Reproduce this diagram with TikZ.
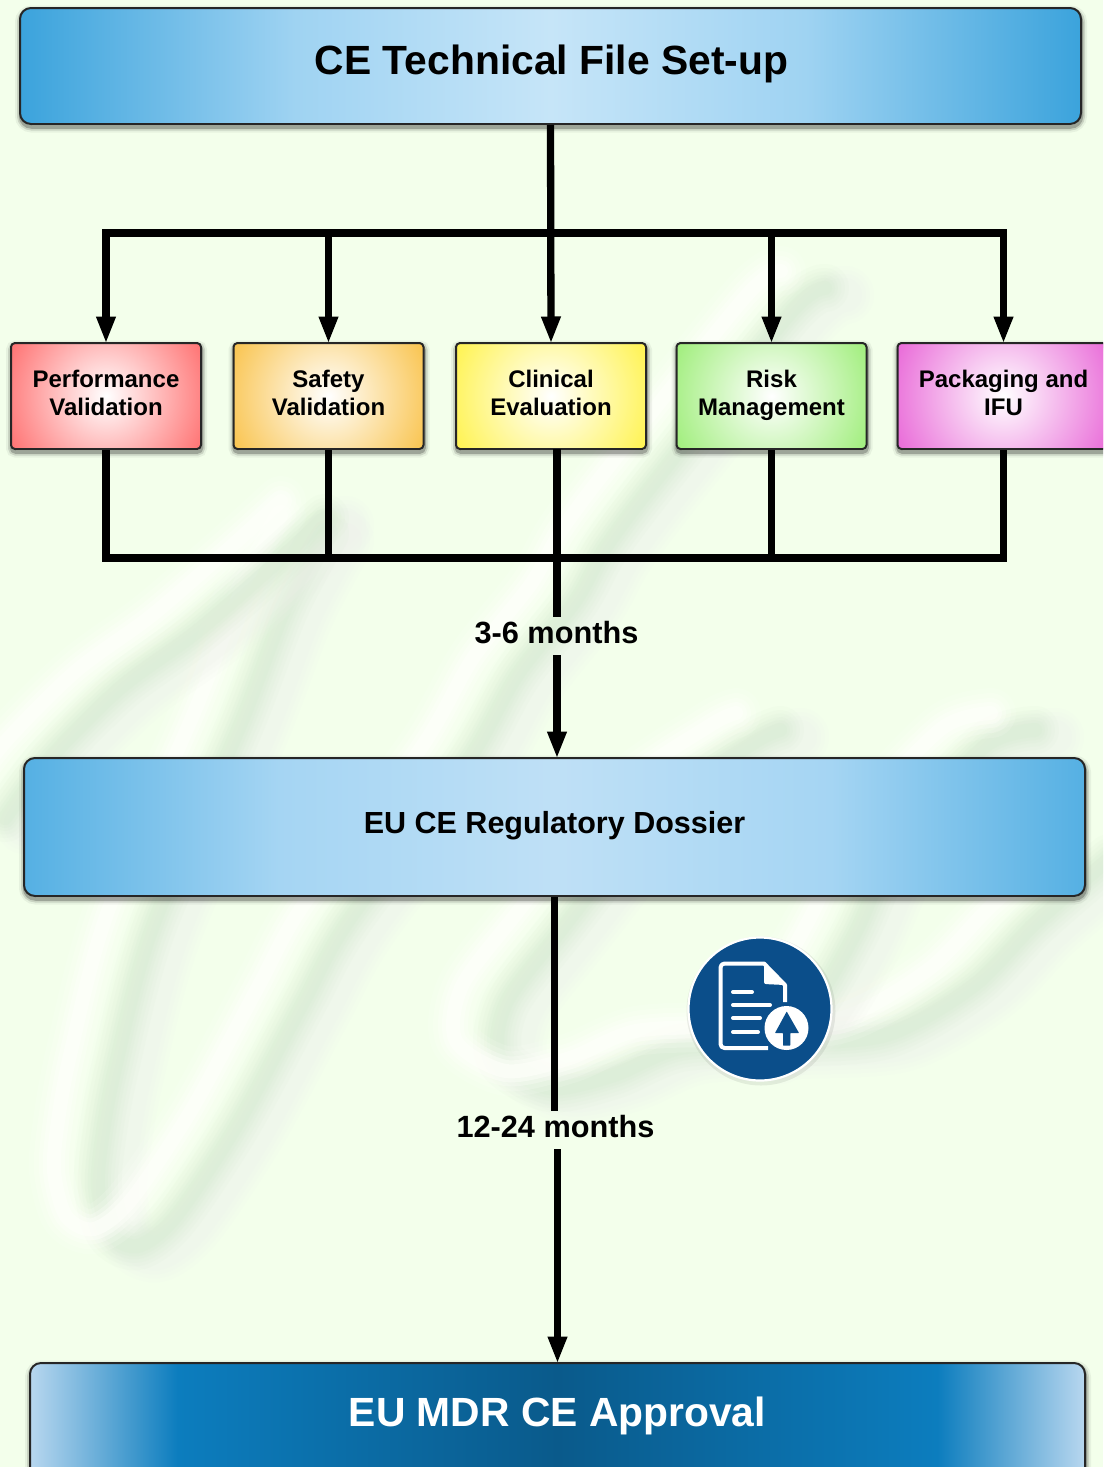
\documentclass[tikz,border=0pt]{standalone}
\usepackage{fontspec}
\setmainfont{Liberation Sans}
\usetikzlibrary{arrows.meta,calc}
\definecolor{bgc}{HTML}{F3FFEB}
\definecolor{wmgreen}{HTML}{D8ECD2}
\definecolor{wmgrey}{HTML}{EFF2EB}
\definecolor{wmwhite}{HTML}{FEFFFA}
\definecolor{redc}{HTML}{FF7373}
\definecolor{orac}{HTML}{F9C44F}
\definecolor{yelc}{HTML}{FFF350}
\definecolor{grec}{HTML}{A0EE7C}
\definecolor{magc}{HTML}{E96AD8}
\definecolor{iconblue}{HTML}{0B4E8A}
\definecolor{HTMLa}{HTML}{3BA3DC}
\definecolor{HTMLb}{HTML}{9FD3F2}
\definecolor{HTMLc}{HTML}{C6E5F8}
\definecolor{HTMLd}{HTML}{55B0E3}
\definecolor{HTMLe}{HTML}{A5D5F3}
\definecolor{HTMLf}{HTML}{BFE0F6}
\definecolor{HTMLg}{HTML}{B8D7EF}
\definecolor{HTMLh}{HTML}{0C7DBE}
\definecolor{HTMLi}{HTML}{0A5A8B}
\pgfdeclarehorizontalshading{topshade}{100bp}{
 color(0bp)=(HTMLa);color(25bp)=(HTMLa);color(38bp)=(HTMLb);color(50bp)=(HTMLc);color(62bp)=(HTMLb);color(75bp)=(HTMLa);color(100bp)=(HTMLa)}
\pgfdeclarehorizontalshading{dosshade}{100bp}{
 color(0bp)=(HTMLd);color(25bp)=(HTMLd);color(37bp)=(HTMLe);color(50bp)=(HTMLf);color(63bp)=(HTMLe);color(75bp)=(HTMLd);color(100bp)=(HTMLd)}
\pgfdeclarehorizontalshading{appshade}{100bp}{
 color(0bp)=(HTMLg);color(25bp)=(HTMLg);color(32bp)=(HTMLh);color(50bp)=(HTMLi);color(68bp)=(HTMLh);color(75bp)=(HTMLg);color(100bp)=(HTMLg)}
\tikzset{
 softshadow/.style={
  preaction={draw=black,line width=11pt,opacity=.05,transform canvas={xshift=.5pt,yshift=-3pt}},
  preaction={draw=black,line width=7pt,opacity=.12,transform canvas={xshift=.5pt,yshift=-3pt}},
  preaction={draw=black,line width=3.5pt,opacity=.22,transform canvas={xshift=.5pt,yshift=-3pt}}},
 bigbox/.style={softshadow,draw=black!85,line width=2pt,rounded corners=11pt,inner sep=0pt},
 smallbox/.style={softshadow,draw=black!85,line width=2pt,rounded corners=4pt,inner sep=0pt,
   minimum height=106pt,font=\bfseries\fontsize{24}{28.5}\selectfont,align=center},
 glow/.style 2 args={fill=#1,path picture={\shade[inner color=white,outer color=#1]
   (path picture bounding box.center) circle (#2);}},
 wire/.style={draw=black,line width=7.3pt},
 arrowwire/.style={wire,-{Triangle[width=18pt,length=27pt]},shorten >=-1.5pt},
 steplabel/.style={inner xsep=1pt,inner ysep=0pt,outer sep=0pt,anchor=base,text height=26pt,text depth=12pt,
   font=\bfseries\fontsize{30.7}{36}\selectfont},
 wmline/.style={line cap=round,line join=round},
}
% watermark stroke: grey fringe and green band to the lower right, white core to the upper left
\newcommand{\wmstroke}[1]{%
 \begin{scope}[transform canvas={xshift=40pt,yshift=-15pt}]
  \foreach \wd/\op in {58/.12,50/.15,42/.18,34/.2}{
   \path[wmline,draw=wmgrey,opacity=\op,line width=\wd pt] plot[smooth] coordinates {#1};}
 \end{scope}
 \begin{scope}[transform canvas={xshift=20pt,yshift=-8pt}]
  \foreach \wd/\op in {48/.1,40/.12,33/.14,26/.17,20/.22,14/.28}{
   \path[wmline,draw=wmgreen,opacity=\op,line width=\wd pt] plot[smooth] coordinates {#1};}
 \end{scope}
 \begin{scope}[transform canvas={xshift=-24pt,yshift=9pt}]
  \foreach \wd/\op in {50/.14,40/.2,30/.3,22/.45,14/.6}{
   \path[wmline,draw=wmwhite,opacity=\op,line width=\wd pt] plot[smooth] coordinates {#1};}
 \end{scope}
}
\begin{document}
\begin{tikzpicture}[x=1pt,y=-1pt]
\useasboundingbox (0,0) rectangle (1103,1467);
\clip (0,0) rectangle (1103,1467);
\fill[bgc] (0,0) rectangle (1103,1467);
% watermark
\wmstroke{(805,280) (770,305) (635,473) (585,540) (555,593) (497,667) (445,757) (328,913) (282,996) (216,1118) (155,1209) (118,1238) (90,1225) (78,1180) (82,1130) (95,1060) (132,920) (220,717) (265,600) (305,525)}
\wmstroke{(305,510) (250,560) (175,625) (100,680) (30,750) (-15,810)}
\wmstroke{(760,722) (733,735) (640,800) (540,923) (486,995) (480,1050) (530,1080) (594,1067) (660,1040) (760,1035) (866,1027) (953,978) (1015,915) (1090,850)}
\wmstroke{(1015,722) (965,738) (880,830) (835,925) (790,1000) (740,1040)}
% boxes
\node[bigbox,shading=topshade,minimum width=1061pt,minimum height=116pt,
  label={[xshift=1pt,yshift=2.5pt,font=\bfseries\fontsize{40.8}{48}\selectfont]center:CE Technical File Set-up}] (top) at (550.5,66) {};
\node[smallbox,glow={redc}{108},minimum width=190pt] (perf) at (106,396) {Performance\strut\\Validation\strut};
\node[smallbox,glow={orac}{108},minimum width=190pt] (safe) at (328.5,396) {Safety\strut\\Validation\strut};
\node[smallbox,glow={yelc}{108},minimum width=190pt] (clin) at (551,396) {Clinical\strut\\Evaluation\strut};
\node[smallbox,glow={grec}{108},minimum width=190pt] (risk) at (771.5,396) {Risk\strut\\Management\strut};
\node[smallbox,glow={magc}{118},minimum width=212pt] (pack) at (1003.5,396) {Packaging and\strut\\IFU\strut};
\node[bigbox,shading=dosshade,minimum width=1061pt,minimum height=138pt,
  label={[yshift=1pt,font=\bfseries\fontsize{30.5}{38}\selectfont]center:EU CE Regulatory Dossier}] (dos) at (554.5,827) {};
\node[bigbox,shading=appshade,minimum width=1055pt,minimum height=128pt] (app) at (557.5,1427) {};
\node[text=white,font=\bfseries\fontsize{40.8}{48}\selectfont] (apptxt) at (557.5,1416) {EU MDR CE Approval};
% month labels (the connectors stop at their edges)
\node[steplabel] (l1) at (556.5,643) {3-6 months};
\node[steplabel] (l2) at (555.5,1137) {12-24 months};
% connectors
\coordinate (busT) at (551,233);
\coordinate (busB) at (557,558);
\coordinate (clinout) at (557,449);
\draw[wire,{Triangle[width=18pt,length=27pt]}-{Triangle[width=18pt,length=27pt]},shorten <=-1.5pt,shorten >=-1.5pt] (perf.north) |- (busT) -| (pack.north);
\draw[arrowwire] (top.south) -- (clin.north);
\draw[arrowwire] (safe.north |- busT) -- (safe.north);
\draw[arrowwire] (risk.north |- busT) -- (risk.north);
\draw[wire] (perf.south) |- (busB) -| (pack.south);
\draw[wire] (safe.south) -- (safe.south |- busB);
\draw[wire] (risk.south) -- (risk.south |- busB);
\draw[wire] (clinout) -- (l1.north -| clinout);
\draw[arrowwire] (l1.south -| clinout) -- (dos.north -| clinout);
\draw[wire] (dos.south) -- (dos.south |- l2.north);
\draw[arrowwire] (app.north |- l2.south) -- (app.north);
% icon
\fill[black,opacity=.07] (761,1011) circle (74.5);
\node[circle,draw=white,line width=2.2pt,fill=iconblue,minimum size=143pt,inner sep=0pt] (icon) at (760,1009) {};
\draw[white,line width=4pt,line join=round] (785,1002) -- (785,985) -- (764,963.5) -- (726,963.5)
  [rounded corners=4pt] -- (720.5,963.5) -- (720.5,1048) -- (768,1048);
\fill[white,line join=round] (764,963) -- (764,979) [rounded corners=2pt] -- (764,984) -- (785,985) -- cycle;
\foreach \ly/\lx in {992/752,1005/770,1018/760,1032/758}{
  \draw[white,line width=4pt,line cap=round] (733,\ly) -- (\lx,\ly);}
\fill[white] (786.5,1028) circle (22);
\fill[iconblue,rounded corners=.5pt] (786.7,1011.5) -- (799,1033) -- (790.3,1033) -- (790.3,1045.5) -- (783,1045.5) -- (783,1033) -- (775,1033) -- cycle;
\end{tikzpicture}
\end{document}
